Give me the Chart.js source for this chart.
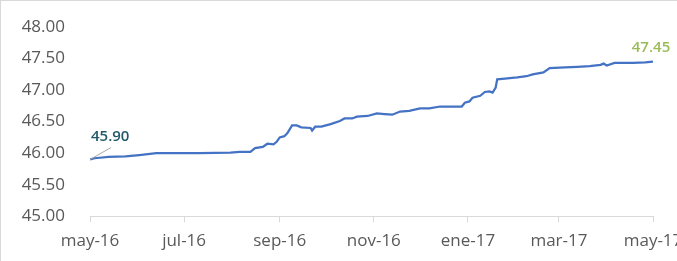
<!DOCTYPE html>
<html>
<head>
<meta charset="utf-8">
<script src="https://cdn.jsdelivr.net/npm/chart.js@4/dist/chart.umd.min.js"></script>
<style>
	html, body { margin: 0; padding: 0; background: #fff; overflow: hidden; }
	#frame { position: absolute; left: 0; top: 0; width: 740px; height: 300px; border: 1px solid #d9d9d9; box-sizing: border-box; }
	#wrap { position: absolute; left: 0; top: 0; width: 720px; height: 261px; }
</style>
</head>
<body>
<div id="frame"></div>
<div id="wrap"><canvas id="chart"></canvas></div>
<script>
// days counted from 1 May 2016
const days = [0, 3, 12, 23, 32, 43, 55, 71, 91, 97, 104, 107, 112, 115, 119, 121, 123, 126, 128, 131,
	134, 137, 143, 144, 146, 150, 156, 162, 165, 170, 173, 180, 186, 191, 196, 201, 207, 214, 220, 227,
	235, 241, 243, 246, 248, 253, 256, 259, 261, 263, 264, 269, 277, 283, 287, 294, 298, 308, 316, 324,
	331, 333, 335, 340, 352, 360, 365];
const rates = [45.90, 45.92, 45.94, 45.95, 45.97, 46.00, 46.00, 46.00, 46.01, 46.02, 46.02, 46.08, 46.10, 46.15, 46.14, 46.18, 46.25, 46.27, 46.32, 46.44,
	46.44, 46.41, 46.40, 46.36, 46.42, 46.42, 46.46, 46.51, 46.55, 46.55, 46.58, 46.59, 46.63, 46.62, 46.61, 46.66, 46.67, 46.71, 46.71, 46.74,
	46.74, 46.74, 46.80, 46.82, 46.88, 46.91, 46.97, 46.98, 46.96, 47.04, 47.17, 47.18, 47.20, 47.22, 47.25, 47.28, 47.35, 47.36, 47.37, 47.38,
	47.40, 47.42, 47.39, 47.43, 47.43, 47.44, 47.45];
const tickDays = [0, 61, 123, 184, 245, 304, 365];
const tickLabels = ['may-16', 'jul-16', 'sep-16', 'nov-16', 'ene-17', 'mar-17', 'may-17'];

const FONT = "'Open Sans', sans-serif";

// first / last value callouts
const calloutPlugin = {
	id: 'callouts',
	afterDatasetsDraw (chart)
	{
		const ctx = chart.ctx;
		const xs = chart.scales.x, ys = chart.scales.y;
		const x0 = xs.getPixelForValue(days[0]);
		const y0 = ys.getPixelForValue(rates[0]);
		const x1 = xs.getPixelForValue(days[days.length - 1]);
		const y1 = ys.getPixelForValue(rates[rates.length - 1]);
		ctx.save();
		ctx.strokeStyle = '#a6a6a6';
		ctx.lineWidth = 1;
		ctx.beginPath();
		ctx.moveTo(x0, y0);
		ctx.lineTo(x0 + 21, y0 - 12);
		ctx.stroke();
		ctx.font = "600 15px " + FONT;
		ctx.textBaseline = 'bottom';
		ctx.textAlign = 'left';
		ctx.fillStyle = '#215968';
		ctx.fillText(rates[0].toFixed(2), x0 + 1, y0 - 15);
		ctx.textAlign = 'center';
		ctx.fillStyle = '#9bbb59';
		ctx.fillText(rates[rates.length - 1].toFixed(2), x1 - 2, y1 - 6);
		ctx.restore();
	}
};

const points = days.map((d, i) => ({ x: d, y: rates[i] }));

new Chart(document.getElementById('chart').getContext('2d'), {
	type: 'line',
	data: {
		datasets: [
			{
				data: points,
				borderColor: '#4472c4',
				borderWidth: 2.25,
				pointRadius: 0,
				tension: 0,
				fill: false
			}
		]
	},
	options: {
		responsive: true,
		maintainAspectRatio: false,
		animation: false,
		layout: { padding: { top: 27, right: 67, bottom: 0, left: 0 } },
		plugins: {
			legend: { display: false },
			tooltip: { enabled: false }
		},
		scales: {
			x: {
				type: 'linear',
				min: 0,
				max: 365,
				afterBuildTicks: (scale) => { scale.ticks = tickDays.map(v => ({ value: v })); },
				grid: { drawOnChartArea: false, drawTicks: true, tickLength: 6, color: '#d9d9d9' },
				border: { display: true, color: '#d9d9d9', width: 1 },
				ticks: {
					autoSkip: false,
					maxRotation: 0,
					padding: 10,
					color: '#595959',
					font: { family: FONT, size: 17, lineHeight: 1.1 },
					callback: (v, i) => tickLabels[i]
				}
			},
			y: {
				min: 45,
				max: 48,
				afterFit: (scale) => { scale.width = 90; },
				// tick marks hidden, their length only pushes the labels left
				grid: { display: false, drawTicks: true, tickLength: 22 },
				border: { display: false },
				ticks: {
					stepSize: 0.5,
					padding: 3,
					color: '#595959',
					font: { family: FONT, size: 17 },
					callback: (v) => v.toFixed(2)
				}
			}
		}
	},
	plugins: [calloutPlugin]
});
</script>
</body>
</html>
